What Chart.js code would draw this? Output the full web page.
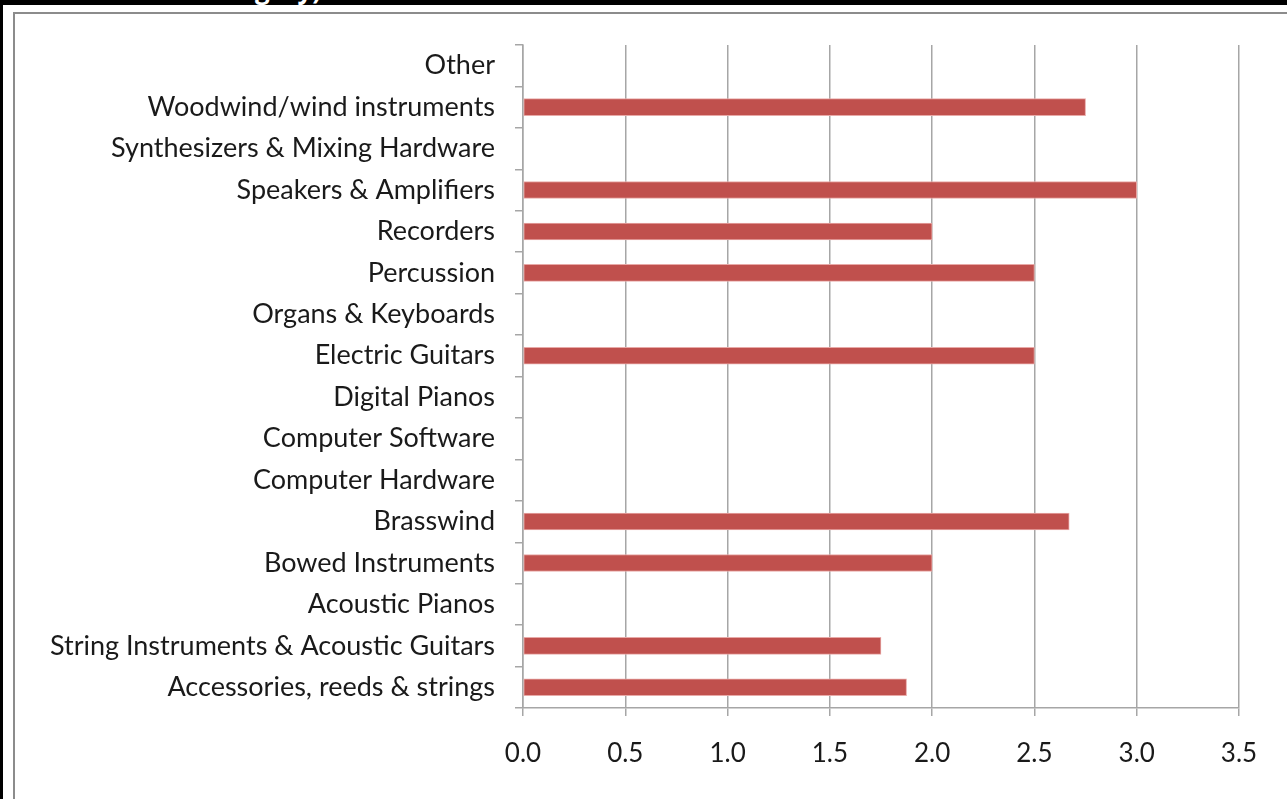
<!DOCTYPE html>
<html>
<head>
<meta charset="utf-8">
<script src="https://cdn.jsdelivr.net/npm/chart.js@4"></script>
<style>
  body { margin: 0; background: #fff; width: 1287px; height: 799px; overflow: hidden; position: relative; }
  #topbar { position: absolute; left: 0; top: 0; width: 1287px; height: 5px; background: #000; overflow: hidden; }
  #topbar span { position: absolute; left: 196px; top: -29px; color: #fff; font: bold 26px "Open Sans", sans-serif; }
  #leftbar { position: absolute; left: 0; top: 0; width: 3px; height: 799px; background: #000; }
  #frame { position: absolute; left: 13px; top: 12px; width: 1300px; height: 820px; border-left: 2px solid #8c8c8c; border-top: 2px solid #8c8c8c; }
  #wrap { position: absolute; left: 0; top: 0; width: 1287px; height: 799px; }
</style>
</head>
<body>
<div id="topbar"><span>Category)</span></div>
<div id="leftbar"></div>
<div id="frame"></div>
<div id="wrap"><canvas id="chart"></canvas></div>
<script>
// categorias de cima para baixo, como no gráfico original
const categorias = [
    "Other",
    "Woodwind/wind instruments",
    "Synthesizers & Mixing Hardware",
    "Speakers & Amplifiers",
    "Recorders",
    "Percussion",
    "Organs & Keyboards",
    "Electric Guitars",
    "Digital Pianos",
    "Computer Software",
    "Computer Hardware",
    "Brasswind",
    "Bowed Instruments",
    "Acoustic Pianos",
    "String Instruments & Acoustic Guitars",
    "Accessories, reeds & strings"
];
const valores = [null, 2.75, null, 3.0, 2.0, 2.5, null, 2.5, null, null, null, 2.67, 2.0, null, 1.75, 1.875];
const xMin = 0, xMax = 3.5, xPasso = 0.5;

const cinza = '#a6a6a6';
const fonte = { family: 'Lato, sans-serif', size: 27 };

const ctx = document.getElementById('chart').getContext('2d');
new Chart(ctx, {
    type: 'bar',
    data: {
        labels: categorias,
        datasets: [{
            data: valores,
            backgroundColor: '#c0504d',
            borderColor: '#e8a9a7',
            borderWidth: 1,
            borderSkipped: false,
            barThickness: 17
        }]
    },
    options: {
        indexAxis: 'y',
        responsive: true,
        maintainAspectRatio: false,
        animation: false,
        layout: { padding: { top: 45, right: 48, left: 0, bottom: 0 } },
        plugins: { legend: { display: false }, tooltip: { enabled: false } },
        scales: {
            x: {
                min: xMin, max: xMax,
                ticks: { stepSize: xPasso, color: '#1a1a1a', font: { family: 'Lato, sans-serif', size: 26 }, padding: 22, callback: v => v.toFixed(1) },
                grid: { color: cinza, lineWidth: 1.5, tickLength: 8, drawTicks: true },
                border: { color: cinza, width: 1.5 },
                afterFit: s => { s.height = 799 - 708; }
            },
            y: {
                ticks: { color: '#1a1a1a', font: fonte, padding: 20, autoSkip: false },
                grid: { drawOnChartArea: false, color: cinza, lineWidth: 1.5, tickLength: 8, offset: true },
                border: { color: cinza, width: 1.5 },
                afterFit: s => { s.width = 523; }
            }
        }
    }
});
</script>
</body>
</html>
